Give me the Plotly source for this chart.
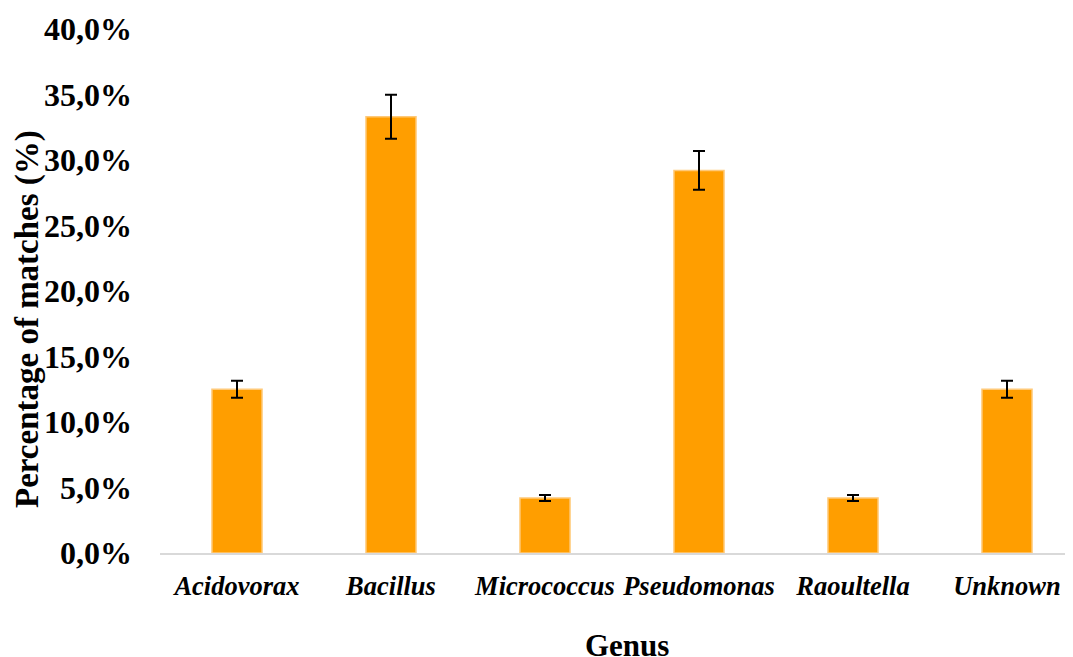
import plotly.graph_objects as go

genera = ["Acidovorax", "Bacillus", "Micrococcus", "Pseudomonas", "Raoultella", "Unknown"]
percent = [12.5, 33.3, 4.2, 29.2, 4.2, 12.5]
error = [0.65, 1.68, 0.23, 1.48, 0.23, 0.65]
y_ticks = [0, 5, 10, 15, 20, 25, 30, 35, 40]
y_tick_labels = [f"{v:.1f}%".replace(".", ",") for v in y_ticks]

# page body has an 8px margin, so the figure is drawn 8px in from the window corner
OFF = 8
W, H = 1073 - OFF, 657 - OFF
L, R, T, B = 160 - OFF, 0, 29 - OFF, 104
pw, ph = W - L - R, H - T - B

FONT = "Liberation Serif"

fig = go.Figure()
fig.add_trace(go.Bar(
    x=list(range(len(genera))),
    y=percent,
    width=0.325,
    marker=dict(color="#FF9E00", line=dict(color="#FFC978", width=1.5)),
    error_y=dict(type="data", array=error, visible=True, color="black", thickness=2, width=6),
))

fig.update_layout(
    width=W, height=H,
    margin=dict(l=L, r=R, t=T, b=B),
    paper_bgcolor="white", plot_bgcolor="white",
    showlegend=False,
    font=dict(family=FONT, color="black"),
    xaxis=dict(
        range=[-0.5, -0.5 + pw / 154.0],
        tickmode="array",
        tickvals=list(range(len(genera))),
        ticktext=[f"<b><i>{g}</i></b>" for g in genera],
        tickfont=dict(family=FONT, size=26.5, color="black"),
        showline=True, linecolor="#D9D9D9", linewidth=1.5,
        showgrid=False, zeroline=False, ticks="",
        ticklabelstandoff=8,
    ),
    yaxis=dict(
        range=[0, 40],
        tickmode="array",
        tickvals=y_ticks,
        ticktext=[f"<b>{t}</b>" for t in y_tick_labels],
        tickfont=dict(family=FONT, size=32, color="black"),
        showline=False, showgrid=False, zeroline=False, ticks="",
        ticklabelstandoff=27,
    ),
    annotations=[
        dict(text="<b>Percentage of matches (%)</b>", xref="paper", yref="paper",
             x=(27 - 160) / pw, y=(553 - 319) / ph, textangle=-90,
             xanchor="center", yanchor="middle", showarrow=False,
             font=dict(family=FONT, size=33, color="black")),
        dict(text="<b>Genus</b>", xref="paper", yref="paper",
             x=(627 - 160) / pw, y=(553 - 645) / ph,
             xanchor="center", yanchor="middle", showarrow=False,
             font=dict(family=FONT, size=31, color="black")),
    ],
)

fig.write_html("out.html")
